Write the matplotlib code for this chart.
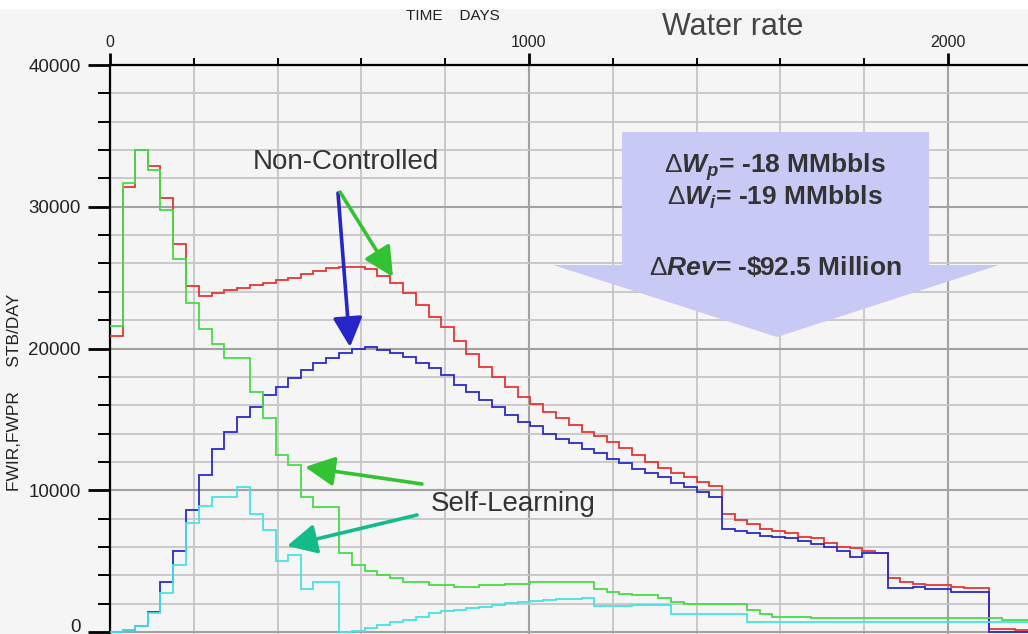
import numpy as np
import pandas as pd
import matplotlib
matplotlib.use("Agg")
import matplotlib.pyplot as plt
from matplotlib.patches import Polygon, Rectangle
from matplotlib.ticker import MultipleLocator

# monthly report steps, value per month (STB/DAY)
RED_NC_WPR = [20900, 31400, 34000, 32900, 30600, 27400, 24400, 23700, 23900, 24100,
              24300, 24500, 24650, 24800, 25000, 25250, 25500, 25650, 25750, 25750,
              25600, 25100, 24600, 23900, 23100, 22200, 21500, 20500, 19600, 18700,
              18000, 17300, 16600, 16100, 15500, 15100, 14600, 14100, 13800, 13400,
              13000, 12500, 12000, 11600, 11200, 10900, 10600, 10300, 8300, 7900,
              7600, 7300, 7100, 7000, 6700, 6600, 6300, 6000, 5900, 5700,
              5600, 3800, 3500, 3400, 3300, 3300, 3200, 3100, 3100, 200,
              200, 150, 150]
BLUE_NC_WIR = [0, 150, 450, 1400, 3500, 5700, 8600, 11100, 12900, 14100,
               15200, 15900, 16700, 17300, 17900, 18500, 19000, 19300, 19700, 20000,
               20100, 19900, 19700, 19400, 19000, 18600, 18100, 17400, 16900, 16400,
               15900, 15300, 14800, 14500, 14000, 13600, 13300, 12900, 12600, 12200,
               11900, 11500, 11200, 10900, 10500, 10200, 9900, 9500, 7300, 7100,
               7000, 6800, 6700, 6600, 6400, 6200, 6000, 5700, 5300, 5600,
               5600, 3100, 3100, 3200, 3000, 3000, 2800, 2800, 2800, 0,
               0, 0, 0]
GREEN_SL_WPR = [21600, 31700, 34000, 32600, 29800, 26300, 23200, 21400, 20300, 19300,
                19300, 16900, 15100, 12500, 11800, 9500, 8800, 8800, 5600, 4700,
                4300, 4000, 3800, 3500, 3500, 3300, 3300, 3200, 3200, 3300,
                3300, 3400, 3400, 3500, 3500, 3500, 3500, 3500, 3000, 2800,
                2700, 2600, 2600, 2400, 2150, 2000, 2000, 2000, 2000, 1950,
                1550, 1270, 1060, 1060, 1060, 990, 990, 990, 990, 990,
                990, 990, 990, 990, 990, 990, 990, 990, 990, 990,
                850, 850, 850]
CYAN_SL_WIR = [0, 150, 420, 1340, 2750, 4700, 7700, 8900, 9500, 9500,
               10200, 8300, 7200, 5000, 5400, 3000, 3500, 3500, 0, 100,
               260, 490, 700, 850, 1080, 1320, 1450, 1550, 1700, 1790,
               1900, 2030, 2100, 2200, 2260, 2300, 2350, 2400, 1850, 1850,
               1850, 1900, 1900, 1900, 1300, 1300, 1300, 1300, 1300, 1300,
               700, 700, 700, 700, 700, 700, 700, 700, 700, 700,
               700, 700, 700, 700, 700, 700, 700, 700, 700, 700,
               700, 700, 700]

months = pd.date_range("2001-01-01", periods=len(RED_NC_WPR) + 1, freq="MS")
edges = (months - months[0]).days.values

W, H = 1028, 634
BG = "#f5f5f5"

plt.rcParams["font.family"] = ["Liberation Sans", "DejaVu Sans"]
plt.rcParams["mathtext.fontset"] = "custom"
plt.rcParams["mathtext.rm"] = "Liberation Sans"
plt.rcParams["mathtext.it"] = "Liberation Sans:italic:bold"
plt.rcParams["mathtext.bf"] = "Liberation Sans:bold"


def fp(x, y):
    # reference pixel -> figure fraction
    return (x / W, 1 - y / H)


fig = plt.figure(figsize=(W / 100, H / 100), dpi=100, facecolor=BG)
fig.patches.append(Rectangle((0, 1 - 9 / H), 1, 9 / H, transform=fig.transFigure,
                             facecolor="white", edgecolor="none", zorder=0))
ax = fig.add_axes([110 / W, 0, 1 - 110 / W, (H - 65) / H])
ax.set_facecolor(BG)

ax.stairs(RED_NC_WPR, edges, baseline=None, color="#e53535", lw=1.3, zorder=3)
ax.stairs(BLUE_NC_WIR, edges, baseline=None, color="#2b2bc8", lw=1.3, zorder=4)
ax.stairs(GREEN_SL_WPR, edges, baseline=None, color="#45dd45", lw=1.3, zorder=5)
ax.stairs(CYAN_SL_WIR, edges, baseline=None, color="#45e3e3", lw=1.3, zorder=6)

ax.set_xlim(0, 2191)
ax.set_ylim(-141, 40000)
ax.xaxis.set_major_locator(MultipleLocator(1000))
ax.xaxis.set_minor_locator(MultipleLocator(200))
ax.yaxis.set_major_locator(MultipleLocator(10000))
ax.yaxis.set_minor_locator(MultipleLocator(2000))
ax.xaxis.tick_top()
ax.grid(which="major", color="#a2a2a2", lw=1.5, zorder=1)
ax.grid(which="minor", color="#c6c6c6", lw=1.3, zorder=1)
ax.set_axisbelow(True)
for s in ("right", "bottom"):
    ax.spines[s].set_visible(False)
for s in ("top", "left"):
    ax.spines[s].set_linewidth(1.6)
ax.tick_params(axis="y", which="major", length=16, width=2, labelsize=13.5, pad=5,
               labelcolor="#222222")
ax.tick_params(axis="y", which="minor", length=8.5, width=1.4)
ax.tick_params(axis="x", which="major", length=9, width=2, labelsize=11.5, pad=2,
               labelcolor="#222222")
ax.tick_params(axis="x", which="minor", length=5, width=1.4)
fig.canvas.draw()
for lab in ax.get_yticklabels():
    if lab.get_text() == "0":
        lab.set_verticalalignment("baseline")

fig.text(*fp(453, 16), "TIME    DAYS", ha="center", va="center", fontsize=11,
         color="#222222")
fig.text(*fp(733, 27), "Water rate", ha="center", va="center", fontsize=22,
         color="#444444")
fig.text(*fp(15, 392), "FWIR,FWPR     STB/DAY", rotation=90, ha="center",
         va="center", fontsize=12.5, color="#222222")

# big lavender block arrow with the deltas
arrow_pts = [fp(622, 132), fp(929, 132), fp(929, 265), fp(999, 265),
             fp(777, 337), fp(553, 265), fp(622, 265)]
ax.add_patch(Polygon(arrow_pts, closed=True, transform=fig.transFigure,
                     facecolor="#c9c9f6", edgecolor="none", zorder=7, clip_on=False))
fig.text(*fp(775, 173), r"$\Delta W_p$= -18 MMbbls", ha="center", va="baseline",
         fontsize=19, fontweight="bold", color="#333333", zorder=8)
fig.text(*fp(775, 205), r"$\Delta W_i$= -19 MMbbls", ha="center", va="baseline",
         fontsize=19, fontweight="bold", color="#333333", zorder=8)
fig.text(*fp(775, 275), r"$\Delta Rev$= -\$92.5 Million", ha="center",
         va="baseline", fontsize=19, fontweight="bold", color="#333333", zorder=8)

fig.text(*fp(346, 162), "Non-Controlled", ha="center", va="center", fontsize=20,
         color="#333333", zorder=8)
fig.text(*fp(513, 504), "Self-Learning", ha="center", va="center", fontsize=20,
         color="#333333", zorder=8)

arrows = [((338, 193), (350, 347), "#2626c8"),
          ((340, 192), (393, 277), "#33c233"),
          ((422, 484), (305, 467), "#33c233"),
          ((417, 515), (287, 546), "#14bb8a")]
for (tx, ty), (hx, hy), col in arrows:
    ax.annotate("", xy=fp(hx, hy), xycoords="figure fraction",
                xytext=fp(tx, ty), textcoords="figure fraction",
                arrowprops=dict(arrowstyle="-|>,head_length=0.9,head_width=0.45",
                                mutation_scale=20, lw=2.6, color=col,
                                shrinkA=0, shrinkB=0),
                annotation_clip=False, zorder=9)

fig.savefig("out.png", dpi=100, facecolor=BG)
